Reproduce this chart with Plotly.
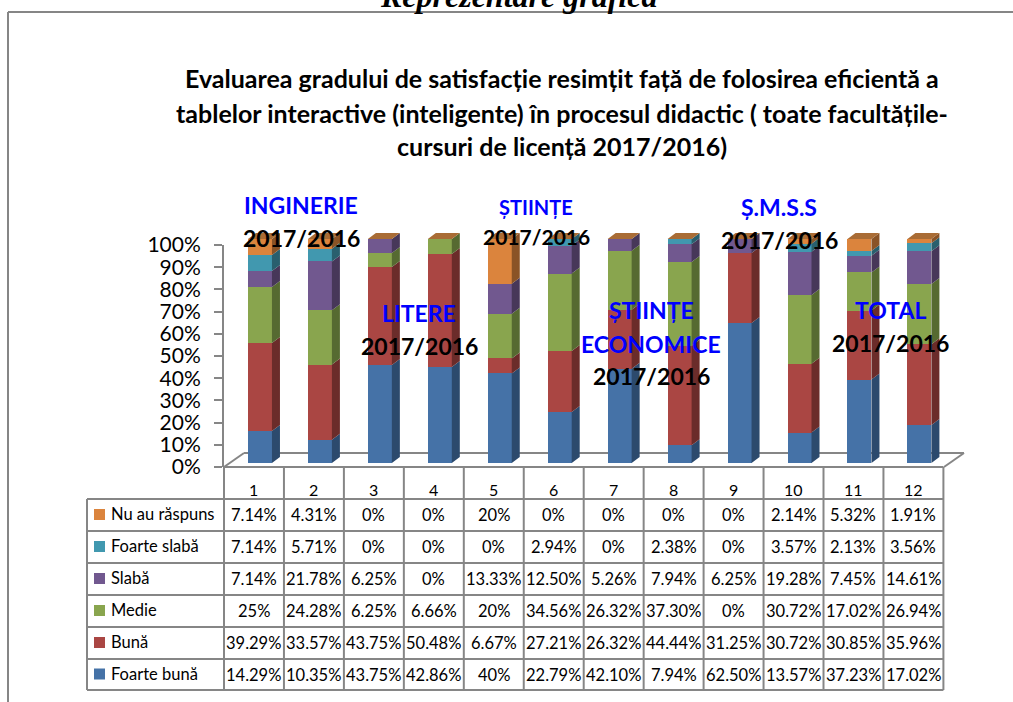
import plotly.graph_objects as go

W, H = 1013, 702
categories = [1, 2, 3, 4, 5, 6, 7, 8, 9, 10, 11, 12]
foarte_buna = [14.29, 10.35, 43.75, 42.86, 40, 22.79, 42.10, 7.94, 62.50, 13.57, 37.23, 17.02]
buna = [39.29, 33.57, 43.75, 50.48, 6.67, 27.21, 26.32, 44.44, 31.25, 30.72, 30.85, 35.96]
medie = [25, 24.28, 6.25, 6.66, 20, 34.56, 26.32, 37.30, 0, 30.72, 17.02, 26.94]
slaba = [7.14, 21.78, 6.25, 0, 13.33, 12.50, 5.26, 7.94, 6.25, 19.28, 7.45, 14.61]
foarte_slaba = [7.14, 5.71, 0, 0, 0, 2.94, 0, 2.38, 0, 3.57, 2.13, 3.56]
nu_au_raspuns = [7.14, 4.31, 0, 0, 20, 0, 0, 0, 0, 2.14, 5.32, 1.91]

series = [
    ("Foarte bună", foarte_buna, "#4572A7", "#2C4A6D"),
    ("Bună", buna, "#AA4643", "#6B2C2A"),
    ("Medie", medie, "#89A54E", "#566A31"),
    ("Slabă", slaba, "#71588F", "#473759"),
    ("Foarte slabă", foarte_slaba, "#4198AF", "#295F6E"),
    ("Nu au răspuns", nu_au_raspuns, "#DB843D", "#8A5326"),
]
GREY = "#868686"
FONT = "Lato"
TOP_FACE = "#A96C35"

title_lines = [
    "Evaluarea gradului de satisfacție resimțit față de folosirea eficientă a",
    "tablelor interactive (inteligente) în procesul didactic ( toate facultățile-",
    "cursuri de licență 2017/2016)",
]
overlay_labels = [
    ("INGINERIE", 301, 205, "#0000FF", 23),
    ("2017/2016", 301, 238, "#000000", 23),
    ("LITERE", 419, 313, "#0000FF", 23),
    ("2017/2016", 419, 346, "#000000", 23),
    ("ȘTIINȚE", 536, 207, "#0000FF", 20),
    ("2017/2016", 536, 236, "#000000", 21),
    ("ȘTIINȚE", 651, 310, "#0000FF", 23),
    ("ECONOMICE", 651, 344, "#0000FF", 23),
    ("2017/2016", 651, 376, "#000000", 23),
    ("Ș.M.S.S", 779, 207, "#0000FF", 23),
    ("2017/2016", 779, 240, "#000000", 23),
    ("TOTAL", 890, 310, "#0000FF", 23),
    ("2017/2016", 890, 343, "#000000", 23),
]


def fx(p):
    return p / W


def fy(p):
    return 1 - p / H


def fmt(v):
    return f"{int(v)}%" if v == int(v) else f"{v:.2f}%"


# pixel geometry
X0, PITCH = 224, 59.95
Y_ZERO, PX_PER_PCT = 463, 2.24
DX, DY = 8 / PITCH, 6 / PX_PER_PCT
BAR_OFFSET, BAR_WIDTH = -0.1, 0.4
plot_right, plot_top, plot_bot = 966, 225, 470

fig = go.Figure()

# front faces
for name, vals, col, _ in series:
    fig.add_bar(x=categories, y=vals, name=name, marker=dict(color=col, line_width=0),
                width=BAR_WIDTH, offset=BAR_OFFSET, xaxis="x", yaxis="y")

# side faces
base = [0.0] * len(categories)
for name, vals, _, dark in series:
    xs, ys = [], []
    for i, c in enumerate(categories):
        b, t = base[i], base[i] + vals[i]
        base[i] = t
        if vals[i] == 0:
            continue
        xr = c + BAR_OFFSET + BAR_WIDTH
        xs += [xr, xr + DX, xr + DX, xr, None]
        ys += [b, b + DY, t + DY, t, None]
    fig.add_scatter(x=xs, y=ys, mode="lines", fill="toself", fillcolor=dark,
                    line=dict(width=0, color=dark), hoverinfo="skip", xaxis="x", yaxis="y")

# top faces
xs, ys = [], []
for i, c in enumerate(categories):
    xl = c + BAR_OFFSET
    xr = xl + BAR_WIDTH
    t = base[i]
    xs += [xl, xr, xr + DX, xl + DX, None]
    ys += [t, t, t + DY, t + DY, None]
fig.add_scatter(x=xs, y=ys, mode="lines", fill="toself", fillcolor=TOP_FACE,
                line=dict(width=0, color=TOP_FACE), hoverinfo="skip", xaxis="x", yaxis="y")

# helper trace that makes the 0-100% axis appear
fig.add_scatter(x=[1], y=[0], mode="none", hoverinfo="skip", xaxis="x", yaxis="y2")

shapes = []
annots = []


def line(x0, y0, x1, y1, w=2, layer="below"):
    shapes.append(dict(type="line", xref="paper", yref="paper", x0=fx(x0), y0=fy(y0),
                       x1=fx(x1), y1=fy(y1), line=dict(color=GREY, width=w), layer=layer))


def text(s, x, y, size, color="#000000", bold=False, anchor="center", family=FONT, italic=False):
    if bold:
        s = f"<b>{s}</b>"
    if italic:
        s = f"<i>{s}</i>"
    annots.append(dict(text=s, x=fx(x), y=fy(y), xref="paper", yref="paper", showarrow=False,
                       xanchor=anchor, yanchor="middle", align="center",
                       font=dict(family=family, size=size, color=color)))


# page frame
line(8, 12, W, 12)
line(8, 12, 8, H)

# floor of the 3D chart
line(224, 467, 244, 453)
line(244, 453, 964, 453)
line(964, 453, 944, 467)

# data table
rows_y = [499, 531, 563, 595, 627, 659, 690]
cols_x = [X0 + PITCH * i for i in range(13)]
for x in cols_x:
    line(x, 467, x, rows_y[-1], layer="above")
line(87, rows_y[0], 87, rows_y[-1], layer="above")
for y in rows_y:
    line(87, y, cols_x[-1], y, layer="above")
line(224, 467, cols_x[-1], 467, layer="above")

for i, c in enumerate(categories):
    text(str(c), X0 + PITCH * (i + 0.5), 489, 16)

for r, (name, vals, col, _) in enumerate(reversed(series)):
    cy = (rows_y[r] + rows_y[r + 1]) / 2
    shapes.append(dict(type="rect", xref="paper", yref="paper", x0=fx(94), x1=fx(105),
                       y0=fy(cy - 6), y1=fy(cy + 5), fillcolor=col, line_width=0))
    text(name, 109, cy - 1, 16.5, anchor="left")
    for i, v in enumerate(vals):
        text(fmt(v), X0 + PITCH * (i + 0.5), cy, 16.5)

# titles
text("Reprezentare grafică", 518, -4, 32, bold=True, italic=True, family="Liberation Serif")
for s, y in zip(title_lines, [78, 113, 146]):
    text(s, 562, y, 25, bold=True)

# overlay labels
for s, x, y, color, size in overlay_labels:
    text(s, x, y, size, color=color, bold=True)

fig.update_layout(
    width=W, height=H, margin=dict(l=0, r=0, t=0, b=0, autoexpand=False),
    paper_bgcolor="white", plot_bgcolor="rgba(0,0,0,0)",
    barmode="stack", showlegend=False, shapes=shapes, annotations=annots,
    font=dict(family=FONT),
    xaxis=dict(domain=[fx(X0), fx(plot_right)], range=[0.5, 0.5 + (plot_right - X0) / PITCH],
               visible=False),
    yaxis=dict(domain=[fy(plot_bot), fy(plot_top)],
               range=[(Y_ZERO - plot_bot) / PX_PER_PCT, (Y_ZERO - plot_top) / PX_PER_PCT],
               visible=False),
    yaxis2=dict(domain=[fy(467), fy(245)], range=[0, 100], anchor="x", side="left",
                tickmode="array", tickvals=list(range(0, 101, 10)),
                ticktext=[f"{v}%" for v in range(0, 101, 10)],
                ticks="outside", ticklen=8, tickwidth=2, tickcolor=GREY,
                showline=True, linecolor=GREY, linewidth=2, showgrid=False, zeroline=False,
                tickfont=dict(family=FONT, size=21, color="#000000"), ticklabelstandoff=9),
)

fig.write_html("out.html", config={"displayModeBar": False},
               post_script="document.body.style.margin='0';document.body.style.overflow='hidden';")
